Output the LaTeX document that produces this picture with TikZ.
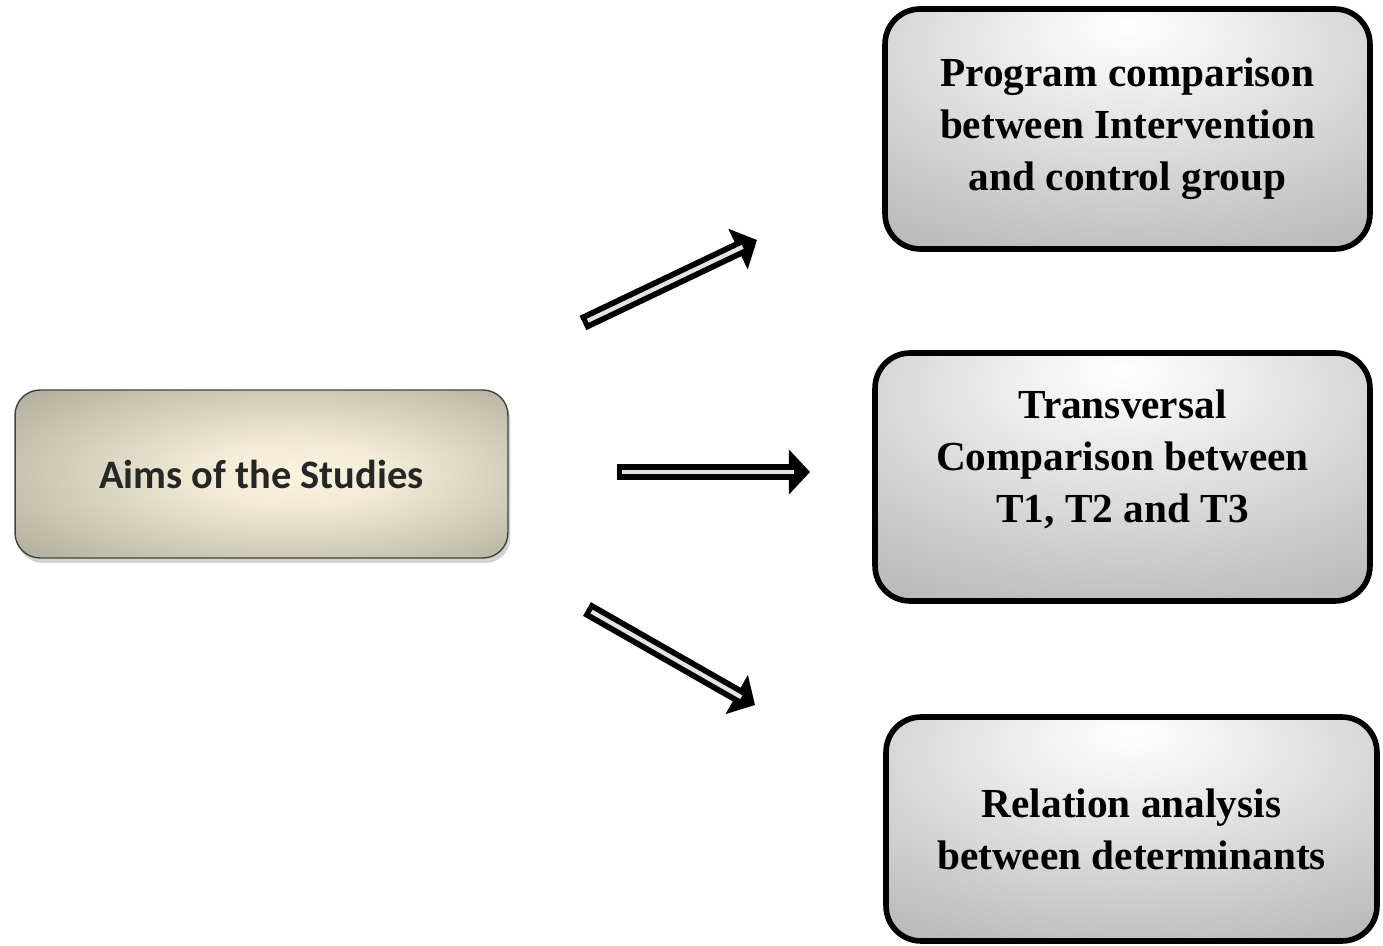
\documentclass[tikz,border=0pt]{standalone}
\usepackage{fontspec}
\usepackage{tikz}
\usetikzlibrary{arrows.meta,shadows}
\newfontfamily\aimsfont{Carlito}
\newfontfamily\studyfont{Liberation Serif}
\definecolor{khaki}{RGB}{156,152,134}
\definecolor{cream}{RGB}{250,244,222}
\pgfdeclareradialshading{aimsglow}{\pgfpoint{4bp}{0bp}}{color(0bp)=(cream); color(10bp)=(cream!90!khaki); color(38bp)=(khaki!80!cream); color(55bp)=(khaki); color(75bp)=(khaki!85!black)}
\pgfdeclareradialshading{studyglow}{\pgfpoint{0bp}{22bp}}{color(0bp)=(white); color(10bp)=(gray!12); color(35bp)=(gray!45); color(52bp)=(gray!66); color(68bp)=(gray!78); color(95bp)=(gray!92)}
\tikzset{
  aimsbox/.style={rounded corners=0.5cm,draw=black!75,line width=0.8pt,shading=aimsglow,
    font=\aimsfont\bfseries\fontsize{23}{28}\selectfont,text=black!85,
    drop shadow={shadow xshift=0.05cm,shadow yshift=-0.1cm,opacity=0.35}},
  studybox/.style={rounded corners=0.7cm,draw=black,line width=3.2pt,shading=studyglow,align=center,
    font=\studyfont\bfseries\fontsize{23.5}{29.6}\selectfont},
  bigarrow/.style={draw=black,line width=9pt,-{Triangle[length=12pt,width=25pt]},
    postaction={draw=gray!22,line width=2.4pt,-,shorten <=3pt,shorten >=9pt}}
}
\begin{document}
\begin{tikzpicture}[x=0.02cm,y=-0.02cm]
\useasboundingbox (0,0) rectangle (1383,946);
\node(aims) at (261.5,474)[aimsbox,minimum width=9.86cm,minimum height=3.36cm] {Aims of the Studies};
\node(prog) at (1127.5,129)[studybox,minimum width=9.7cm,minimum height=4.8cm] {Program comparison\\between Intervention\\and control group};
\node(trans) at (1122.5,477)[studybox,minimum width=9.9cm,minimum height=4.96cm,text height=76pt,text depth=24pt] {Transversal\\Comparison between\\T1, T2 and T3};
\node(rel) at (1131.5,829)[studybox,minimum width=9.82cm,minimum height=4.48cm] {Relation analysis\\between determinants};
\coordinate(up tail) at (583,323);
\coordinate(up head) at (757,240);
\coordinate(mid tail) at (617,472);
\coordinate(mid head) at (810,472);
\coordinate(down tail) at (587,609);
\coordinate(down head) at (755,705);
\draw[bigarrow] (up tail) -- (up head);
\draw[bigarrow] (mid tail) -- (mid head);
\draw[bigarrow] (down tail) -- (down head);
\end{tikzpicture}
\end{document}
